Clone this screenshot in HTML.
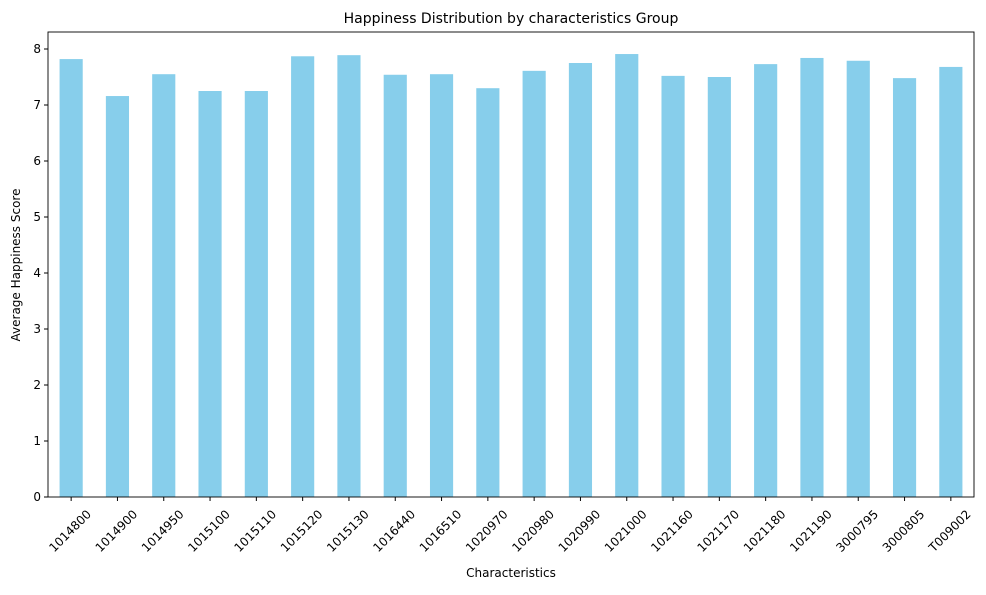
<!DOCTYPE html>
<html><head><meta charset="utf-8"><style>
body{margin:0;background:#fff;font-family:"Liberation Sans","DejaVu Sans",sans-serif;}
svg text{font-family:"DejaVu Sans","Liberation Sans",sans-serif;fill:#000;}
</style></head><body>
<svg id="chart" width="986" height="590" xmlns="http://www.w3.org/2000/svg">
<rect width="986" height="590" fill="#fff"/>
<text x="511" y="23" font-size="14" text-anchor="middle">Happiness Distribution by characteristics Group</text>
<g id="bars"></g><g id="yticks"></g><g id="xticks"></g>
<rect x="48" y="32" width="926" height="465" fill="none" stroke="#000" stroke-width="0.9"/>
<text x="511" y="577" font-size="12" text-anchor="middle">Characteristics</text>
<text transform="translate(20,265) rotate(-90)" font-size="12" text-anchor="middle">Average Happiness Score</text>
</svg>
<script>
const categories=["1014800","1014900","1014950","1015100","1015110","1015120","1015130","1016440","1016510","1020970","1020980","1020990","1021000","1021160","1021170","1021180","1021190","3000795","3000805","T009002"];
const values=[7.82,7.16,7.55,7.25,7.25,7.87,7.89,7.54,7.55,7.30,7.61,7.75,7.91,7.52,7.50,7.73,7.84,7.79,7.48,7.68];
const yTicks=[0,1,2,3,4,5,6,7,8];
const NS="http://www.w3.org/2000/svg";
const L=48,R=974,B=497,pxPerUnit=56;
const y=v=>B-v*pxPerUnit;
const step=(R-L)/categories.length;
const x=i=>L+step*(i+0.5);
const bw=step*0.5;
const gb=document.getElementById('bars'),gy=document.getElementById('yticks'),gx=document.getElementById('xticks');
values.forEach((v,i)=>{
 const r=document.createElementNS(NS,'rect');
 
 
 r.setAttribute('x',x(i)-bw/2);r.setAttribute('y',y(v));r.setAttribute('width',bw);r.setAttribute('height',B-y(v));r.setAttribute('fill','#87ceeb');
 gb.appendChild(r);
});
yTicks.forEach(t=>{
 const l=document.createElementNS(NS,'line');
 
 
 l.setAttribute('x1',L-4);l.setAttribute('x2',L);l.setAttribute('y1',y(t));l.setAttribute('y2',y(t));l.setAttribute('stroke','#000');
 gy.appendChild(l);
 const s=document.createElementNS(NS,'text');
 
 
 s.setAttribute('x',L-7);s.setAttribute('y',y(t)+4);s.setAttribute('font-size','12');s.setAttribute('text-anchor','end');
 s.textContent=t;gy.appendChild(s);
});
categories.forEach((c,i)=>{
 const l=document.createElementNS(NS,'line');
 
 
 l.setAttribute('x1',x(i));l.setAttribute('x2',x(i));l.setAttribute('y1',B);l.setAttribute('y2',B+4);l.setAttribute('stroke','#000');
 gx.appendChild(l);
 const s=document.createElementNS(NS,'text');
 
 
 s.setAttribute('font-size','12');s.setAttribute('text-anchor','middle');
 s.setAttribute('transform','translate('+(x(i)-1)+','+(B+34)+') rotate(-45)');
 s.setAttribute('dy','4');
 s.textContent=c;gx.appendChild(s);
});
</script>
</body></html>
